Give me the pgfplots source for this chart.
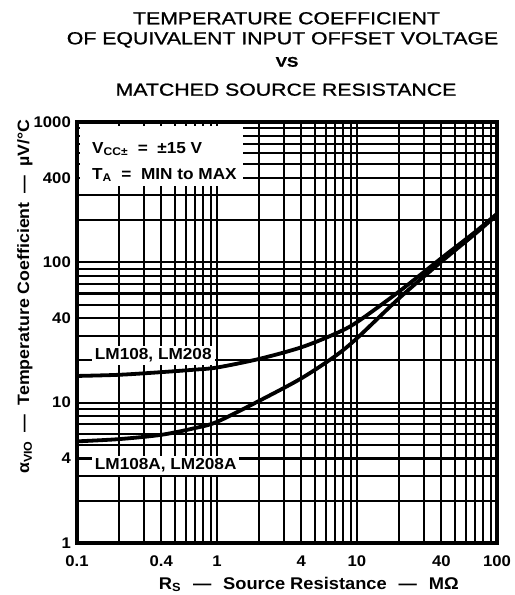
\documentclass[border=0pt]{standalone}
\usepackage{fontspec}
\setmainfont{Liberation Sans}[FakeStretch=1.08]
\newfontfamily\titlefont{Liberation Sans}[FakeStretch=1.22, FakeBold=1]
\usepackage{pgfplots}
\pgfplotsset{compat=1.18}
\begin{document}
\begin{tikzpicture}
\path[use as bounding box] (0,0) rectangle (515bp,595bp);
\begin{axis}[
  at={(77bp,52bp)}, anchor=south west,
  width=420bp, height=421bp, scale only axis,
  xmode=log, ymode=log,
  xmin=0.1, xmax=100, ymin=1, ymax=1000,
  xtick={0.1,0.4,1,4,10,40,100},
  xticklabels={0.1,0.4,1,4,10,40,100},
  minor xtick={0.2,0.3,0.5,0.6,0.7,0.8,0.9,2,3,5,6,7,8,9,20,30,50,60,70,80,90},
  ytick={1,4,10,40,100,400,1000},
  yticklabels={1,4,10,40,100,400,1000},
  minor ytick={2,3,5,6,7,8,9,20,30,50,60,70,80,90,200,300,500,600,700,800,900},
  grid=both,
  major grid style={black, line width=2.1bp},
  minor grid style={black, line width=2.1bp},
  major tick length=0pt, minor tick length=0pt,
  axis line style={line width=4.2bp},
  ticklabel style={font=\fontsize{15.5}{16}\selectfont\bfseries},
  xticklabel style={anchor=base, yshift=-23bp, inner sep=0pt},
  yticklabel style={anchor=east, xshift=-6bp, inner sep=0pt},
  xlabel={R\textsubscript{S}\hspace{0.7em}—\hspace{0.7em}Source Resistance\hspace{0.7em}—\hspace{0.7em}MΩ},
  every axis x label/.style={at={(axis description cs:0.552,0)}, anchor=base, yshift=-46bp, font=\fontsize{17}{18}\selectfont\bfseries},
  ylabel={α\textsubscript{VIO}\hspace{0.55em}—\hspace{0.55em}Temperature Coefficient\hspace{0.55em}—\hspace{0.55em}µV/°C},
  every axis y label/.style={at={(axis description cs:0,0.585)}, xshift=-52bp, rotate=90, anchor=center, font=\fontsize{16.5}{18}\selectfont\bfseries},
]
% LM108, LM208
\addplot[black, line width=3.8bp, smooth] coordinates {
  (0.1,15.5) (0.2,15.8) (0.4,16.5) (0.7,17.2) (1,17.8) (2,20.5) (4,24.8)
  (7,31) (10,37.5) (20,62) (40,107) (70,165) (100,222)
};
% LM108A, LM208A
\addplot[black, line width=3.8bp, smooth] coordinates {
  (0.1,5.3) (0.2,5.5) (0.4,5.9) (0.7,6.6) (1,7.3) (2,10.3) (4,14.9)
  (7,21.5) (10,28.8) (20,55.5) (40,101) (70,160) (100,218)
};
\fill[white] (rel axis cs:0.008,0.99) rectangle (rel axis cs:0.395,0.848);
\node[anchor=base west, inner sep=0pt, font=\fontsize{16}{17}\selectfont\bfseries]
  at (rel axis cs:0.0357,0.926) {V\textsubscript{CC±}\hspace{0.6em}=\hspace{0.6em}±15 V};
\node[anchor=base west, inner sep=0pt, font=\fontsize{16}{17}\selectfont\bfseries]
  at (rel axis cs:0.0357,0.8646) {T\textsubscript{A}\hspace{0.6em}=\hspace{0.6em}MIN to MAX};
\node[anchor=base west, fill=white, inner sep=3bp, font=\fontsize{16}{17}\selectfont\bfseries]
  at (rel axis cs:0.035,0.4347) {LM108, LM208};
\node[anchor=base west, fill=white, inner sep=3bp, font=\fontsize{16}{17}\selectfont\bfseries]
  at (rel axis cs:0.035,0.1734) {LM108A, LM208A};
\end{axis}
\node[anchor=base, font=\titlefont\fontsize{17.5}{18}\selectfont] at (286.5bp,570.7bp) {TEMPERATURE COEFFICIENT};
\node[anchor=base, font=\titlefont\fontsize{17.5}{18}\selectfont] at (282.5bp,550.7bp) {OF EQUIVALENT INPUT OFFSET VOLTAGE};
\node[anchor=base, font=\titlefont\fontsize{14}{15}\selectfont\bfseries] at (287bp,528.3bp) {VS};
\node[anchor=base, font=\titlefont\fontsize{17.5}{18}\selectfont] at (286bp,499.3bp) {MATCHED SOURCE RESISTANCE};
\end{tikzpicture}
\end{document}
